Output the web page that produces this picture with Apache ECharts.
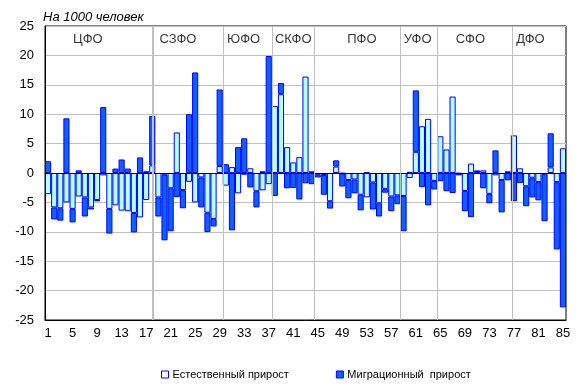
<!DOCTYPE html>
<html><head><meta charset="utf-8">
<script src="https://cdn.jsdelivr.net/npm/echarts@6/dist/echarts.min.js"></script>
<style>html,body{margin:0;padding:0;background:#fff}#c{width:581px;height:391px}</style>
</head><body><div id="c"></div>
<script>
const categories = Array.from({length: 85}, (_, i) => String(i + 1));
const natural = [-3.6,-5.85,-6.0,-5.0,-6.1,-4.0,-4.15,-5.85,-4.6,-0.4,
  -6.1,-5.5,-6.4,-6.5,-6.8,-7.55,-4.6,1.3,-4.15,-0.3,
  -2.6,6.9,-2.9,-1.5,-5.0,-0.75,-6.75,-7.8,1.2,-2.15,
  1.0,-3.45,-0.3,0.8,-3.1,-2.95,-1.9,11.4,13.4,4.4,
  1.8,2.7,16.4,0.3,-0.3,-0.35,-4.8,1.1,-0.1,-1.2,
  -1.1,-3.7,-4.15,-1.6,-5.15,-2.7,-4.0,-3.8,-3.9,-0.85,
  3.6,7.95,9.2,-1.35,6.25,4.0,13.0,-0.1,-3.05,1.6,
  0.15,0.45,-3.55,-0.4,-1.2,0.3,6.4,0.8,-2.25,-0.8,
  -1.55,-0.2,0.95,-1.55,4.2];
const migration = [2.0,-2.05,-2.1,9.3,-2.3,0.45,-3.25,-0.35,-0.2,11.2,
  -4.2,0.75,2.3,0.75,-3.3,2.65,0.3,8.4,-3.25,-11.15,
  -7.3,-4.1,-3.1,10.0,17.1,-5.1,-3.3,-1.3,13.0,1.5,
  -9.75,4.4,5.9,-2.45,-2.75,0.3,19.9,-3.9,1.9,-2.6,
  -2.55,-4.5,-1.75,-1.9,-0.45,-3.35,-1.25,1.05,-2.2,-3.1,
  -2.35,-2.65,0.15,-4.6,-2.25,-0.65,-2.5,-1.5,-6.0,0.2,
  10.45,-2.4,-5.5,-1.45,-1.4,-3.1,-3.4,-0.3,-3.45,-7.5,
  0.3,-2.6,-1.6,3.85,-5.5,-1.25,-4.8,-1.7,-3.4,-3.35,
  -3.1,-8.0,5.8,-11.45,-22.85];
const districtNames = ['ЦФО','СЗФО','ЮФО','СКФО','ПФО','УФО','СФО','ДФО'];
const districtLabelPos = [7.0,21.7,32.4,40.5,51.7,60.8,69.4,79.2];
const districtBounds = [17.6,29,37,44,58,64,76.3];
const seriesNames = ['Естественный прирост','Миграционный  прирост'];

const chart = echarts.init(document.getElementById('c'), null, {renderer:'canvas'});
const font = 'Arial, "Liberation Sans", sans-serif';
chart.setOption({
  animation: false,
  textStyle: {fontFamily: font},
  title: {text: 'На 1000 человек', left: 38, top: 6,
    textStyle: {fontSize: 13, fontStyle: 'italic', fontWeight: 'normal', color: '#000', fontFamily: font}},
  grid: {left: 45, right: 15, top: 26, bottom: 71, show: true, borderColor: '#000', borderWidth: 1},
  legend: {left: 156, top: 364, itemWidth: 7, itemHeight: 7, itemGap: 47, icon: 'rect',
    textStyle: {fontSize: 11, color: '#000', fontFamily: font, padding: [0, 0, 0, -1]},
    data: [{name: seriesNames[0], itemStyle: {color: '#ffffff', borderColor: '#0000ff', borderWidth: 1}},
           {name: seriesNames[1], itemStyle: {color: '#1060ff', borderColor: '#0000ff', borderWidth: 1}}]},
  xAxis: [{type: 'category', data: categories, boundaryGap: true,
    axisLine: {onZero: false, lineStyle: {color: '#000'}}, axisTick: {show: false},
    axisLabel: {interval: 3, color: '#000', fontSize: 13, margin: 7, fontFamily: font},
    splitLine: {show: false}},
    {type: 'value', min: 0, max: 85, show: false}],
  yAxis: {type: 'value', min: -25, max: 25, interval: 5,
    axisLine: {show: true, lineStyle: {color: '#000'}}, axisTick: {show: false},
    axisLabel: {color: '#000', fontSize: 13, margin: 11, fontFamily: font},
    splitLine: {lineStyle: {color: '#c0c0c0', width: 1}}},
  series: [
    {name: seriesNames[0], type: 'bar', stack: 'a', stackStrategy: 'samesign', data: natural,
      barWidth: '100%', barGap: '-100%',
      itemStyle: {color: '#b4ffff', borderColor: '#0000ff', borderWidth: 1}, z: 3},
    {name: seriesNames[1], type: 'bar', stack: 'a', stackStrategy: 'samesign', data: migration,
      barWidth: '100%', barGap: '-100%',
      itemStyle: {color: '#1060ff', borderColor: '#0000ff', borderWidth: 1}, z: 3,
      markLine: {silent: true, symbol: 'none', label: {show: false},
        lineStyle: {color: '#000', type: 'solid', width: 1}, data: [{yAxis: 0}]}},
    {name: 'districts', type: 'scatter', xAxisIndex: 1, symbolSize: 0,
      data: districtNames.map((n, i) => ({value: [districtLabelPos[i], 22.8], name: n})),
      label: {show: true, position: 'inside', formatter: p => p.name, color: '#000', fontSize: 13, fontFamily: font},
      z: 5,
      markLine: {silent: true, symbol: 'none', label: {show: false},
        lineStyle: {color: '#c0c0c0', type: 'solid', width: 1},
        data: districtBounds.map((b, i) => ({xAxis: b, lineStyle: {width: i === 0 ? 2 : 1}}))}}
  ]
});
</script></body></html>
